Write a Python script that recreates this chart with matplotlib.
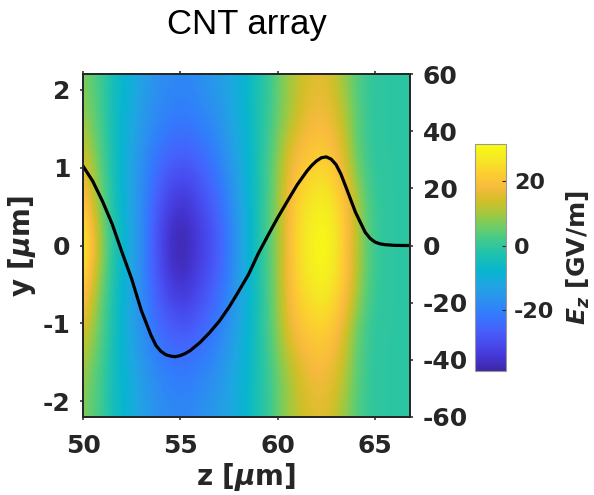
import numpy as np
import matplotlib
matplotlib.use("Agg")
import matplotlib.pyplot as plt
from matplotlib.colors import LinearSegmentedColormap

# ---------------- data ----------------
# field nodes (z in um, |y| in um), Ez in GV/m
z_nodes = [50.0, 50.5, 51.0, 51.5, 52.0, 52.5, 53.0, 53.5, 54.0, 54.5, 55.0, 55.5,
           56.0, 56.5, 57.0, 57.5, 58.0, 58.5, 59.0, 59.5, 60.0, 60.5, 61.0, 61.5,
           62.0, 62.5, 63.0, 63.5, 64.0, 64.5, 65.0, 65.5, 66.0, 66.5, 67.0]
y_half = [0.0, 0.55, 1.1, 1.65, 2.2]
Ez_y000 = [30, 21, 9, 0, -6, -12, -18, -25, -32, -37, -38.9, -37, -34, -31, -27, -22, -15, -9,
           -3, 3, 9, 18, 24, 28, 31, 31, 27, 21, 13, 6, 1, -0.5, -0.7, -0.7, -0.7]
Ez_y055 = [22, 14, 5, -2, -8, -13, -18, -24, -29, -33, -35, -34, -31, -28, -24, -20, -14, -9,
           -3, 2, 9, 17, 23, 26, 28, 28, 25, 20, 13, 5, 1, -0.5, -0.7, -0.7, -0.7]
Ez_y110 = [15, 9, 3, -3, -8, -13, -17, -21, -24, -26, -27, -27, -25, -23, -20, -16, -12, -8,
           -3, 2, 8, 15, 19, 21, 22, 22, 19, 14, 6, 2, -0.5, -0.7, -0.7, -0.7, -0.7]
Ez_y165 = [9, 5, 1, -4, -8, -11, -14, -17, -19, -20.5, -21, -20.5, -19.5, -18, -16, -13, -10, -7,
           -3, 0, 5, 9, 13, 16, 18, 17, 15, 11, 5, 1.5, -0.5, -0.7, -0.7, -0.7, -0.7]
Ez_y220 = [7, 4, 1, -4, -7, -10, -13, -15.5, -17, -18, -18.5, -18.5, -17, -15.5, -14, -12, -10, -7,
           -3, 0, 5, 9, 12, 14, 15, 15, 12, 8, 4, 1, -0.5, -0.7, -0.7, -0.7, -0.7]

# on-axis line (right axis)
line_z = [50.0, 50.5, 51.0, 51.5, 52.0, 52.5, 53.0, 53.5, 53.75, 54.0, 54.25, 54.5, 54.75,
          55.0, 55.25, 55.5, 56.0, 56.5, 57.0, 57.5, 58.0, 58.5, 59.0, 59.5, 60.0, 60.5,
          61.0, 61.5, 61.75, 62.0, 62.25, 62.5, 62.75, 63.0, 63.25, 63.5, 64.0, 64.5,
          64.75, 65.0, 65.25, 65.5, 66.0, 66.5, 66.8]
line_Ez = [27.8, 22.5, 15.5, 7.5, -2.3, -11.7, -22.8, -31.5, -35.0, -37.0, -38.2, -38.7, -38.9,
           -38.5, -37.8, -36.8, -34.0, -30.5, -26.5, -21.6, -16.0, -10.2, -2.9, 3.5, 9.7, 15.5,
           21.2, 26.0, 28.0, 29.6, 30.7, 31.0, 30.2, 28.3, 25.0, 20.6, 11.6, 4.6,
           2.5, 1.2, 0.6, 0.3, 0.05, 0.0, 0.0]

xticks = [50, 55, 60, 65]
yticks = [-2, -1, 0, 1, 2]
y2ticks = [-60, -40, -20, 0, 20, 40, 60]
cticks = [-20, 0, 20]
clim = (-38.9, 31.5)

# parula (subsampled anchors)
parula_anchors = [
    (0.2422, 0.1504, 0.6603), (0.2706, 0.2147, 0.8364), (0.2813, 0.3006, 0.9414),
    (0.2699, 0.3892, 0.9906), (0.1963, 0.4847, 0.9892), (0.1687, 0.5703, 0.9359),
    (0.1248, 0.6459, 0.8883), (0.0297, 0.7082, 0.8163), (0.0964, 0.7500, 0.7120),
    (0.2161, 0.7843, 0.5923), (0.3909, 0.8029, 0.4354), (0.6174, 0.7876, 0.2612),
    (0.8203, 0.7498, 0.1535), (0.9728, 0.7298, 0.2394), (0.9892, 0.8136, 0.1885),
    (0.9597, 0.9135, 0.1423), (0.9769, 0.9839, 0.0805)]
parula = LinearSegmentedColormap.from_list("parula", parula_anchors, N=256)

# ---------------- figure ----------------
plt.rcParams['font.family'] = ['DejaVu Sans']
plt.rcParams['font.weight'] = 'bold'
plt.rcParams['axes.unicode_minus'] = False
plt.rcParams['mathtext.fontset'] = 'custom'
plt.rcParams['mathtext.it'] = 'DejaVu Sans:italic'
plt.rcParams['mathtext.bf'] = 'DejaVu Sans:italic:bold'
plt.rcParams['mathtext.rm'] = 'DejaVu Sans:bold'

W, H = 594, 495
fig = plt.figure(figsize=(W / 100, H / 100), dpi=100)
axc = (0.15, 0.15, 0.15)

ax = fig.add_axes([83 / W, 1 - 417 / H, 327 / W, 343 / H])

rows = [Ez_y220, Ez_y165, Ez_y110, Ez_y055, Ez_y000, Ez_y055, Ez_y110, Ez_y165, Ez_y220]
grid = np.array(rows, dtype=float)
dz = z_nodes[1] - z_nodes[0]
dy = y_half[1] - y_half[0]
im = ax.imshow(grid, cmap=parula, vmin=clim[0], vmax=clim[1], origin='lower',
               aspect='auto', interpolation='bicubic',
               extent=[z_nodes[0] - dz / 2, z_nodes[-1] + dz / 2,
                       -y_half[-1] - dy / 2, y_half[-1] + dy / 2])
ax.set_xlim(50, 66.8)
ax.set_ylim(-2.2, 2.2)
ax.set_xticks(xticks)
ax.set_yticks(yticks)
ax.tick_params(axis='both', direction='out', length=2.2, width=1.1, labelsize=18,
               colors=axc, labelcolor=axc, top=True)
ax.tick_params(axis='x', pad=10)
ax.tick_params(axis='y', pad=7)
for lab in ax.get_xticklabels() + ax.get_yticklabels():
    lab.set_fontweight('bold')
ax.set_xlabel(r'z [$\mu$m]', fontsize=20, fontweight='bold', color=axc)
ax.set_ylabel(r'y [$\mu$m]', fontsize=20, fontweight='bold', color=axc)
ax.xaxis.set_label_coords(0.5, -0.128)
ax.yaxis.set_label_coords(-0.138, 0.5)
for s in ax.spines.values():
    s.set_color(axc)
    s.set_linewidth(1.3)

ax2 = ax.twinx()
ax2.plot(line_z, line_Ez, color='black', lw=2.3, solid_capstyle='round',
         solid_joinstyle='round')
ax2.set_ylim(-60, 60)
ax2.set_xlim(50, 66.8)
ax2.set_yticks(y2ticks)
ax2.tick_params(axis='y', direction='out', length=2.2, width=1.1, labelsize=18,
                colors=axc, labelcolor=axc, pad=7)
for lab in ax2.get_yticklabels():
    lab.set_fontweight('bold')
for s in ax2.spines.values():
    s.set_color(axc)
    s.set_linewidth(1.3)

# colorbar
cax = fig.add_axes([475 / W, 1 - 370.7 / H, 30.7 / W, 226.4 / H])
cb = fig.colorbar(im, cax=cax, ticks=cticks)
cb.outline.set_edgecolor((0.6, 0.6, 0.6))
cb.outline.set_linewidth(0.8)
cax.tick_params(direction='in', length=3, width=0.8, labelsize=16,
                colors=axc, labelcolor=axc, pad=6)
for lab in cax.get_yticklabels():
    lab.set_fontweight('bold')
fig.text(578 / W, 1 - 258 / H, r'$\mathbf{E}_{\mathbf{z}}$ [GV/m]', rotation=90,
         ha='center', va='center', fontsize=18, fontweight='bold', color=axc)

# title
fig.text(246.5 / W, 1 - 34 / H, 'CNT array', ha='center', va='baseline',
         fontsize=25, fontweight='normal', family=['Liberation Sans', 'DejaVu Sans'],
         color='black')

fig.savefig('out.png', dpi=100)
